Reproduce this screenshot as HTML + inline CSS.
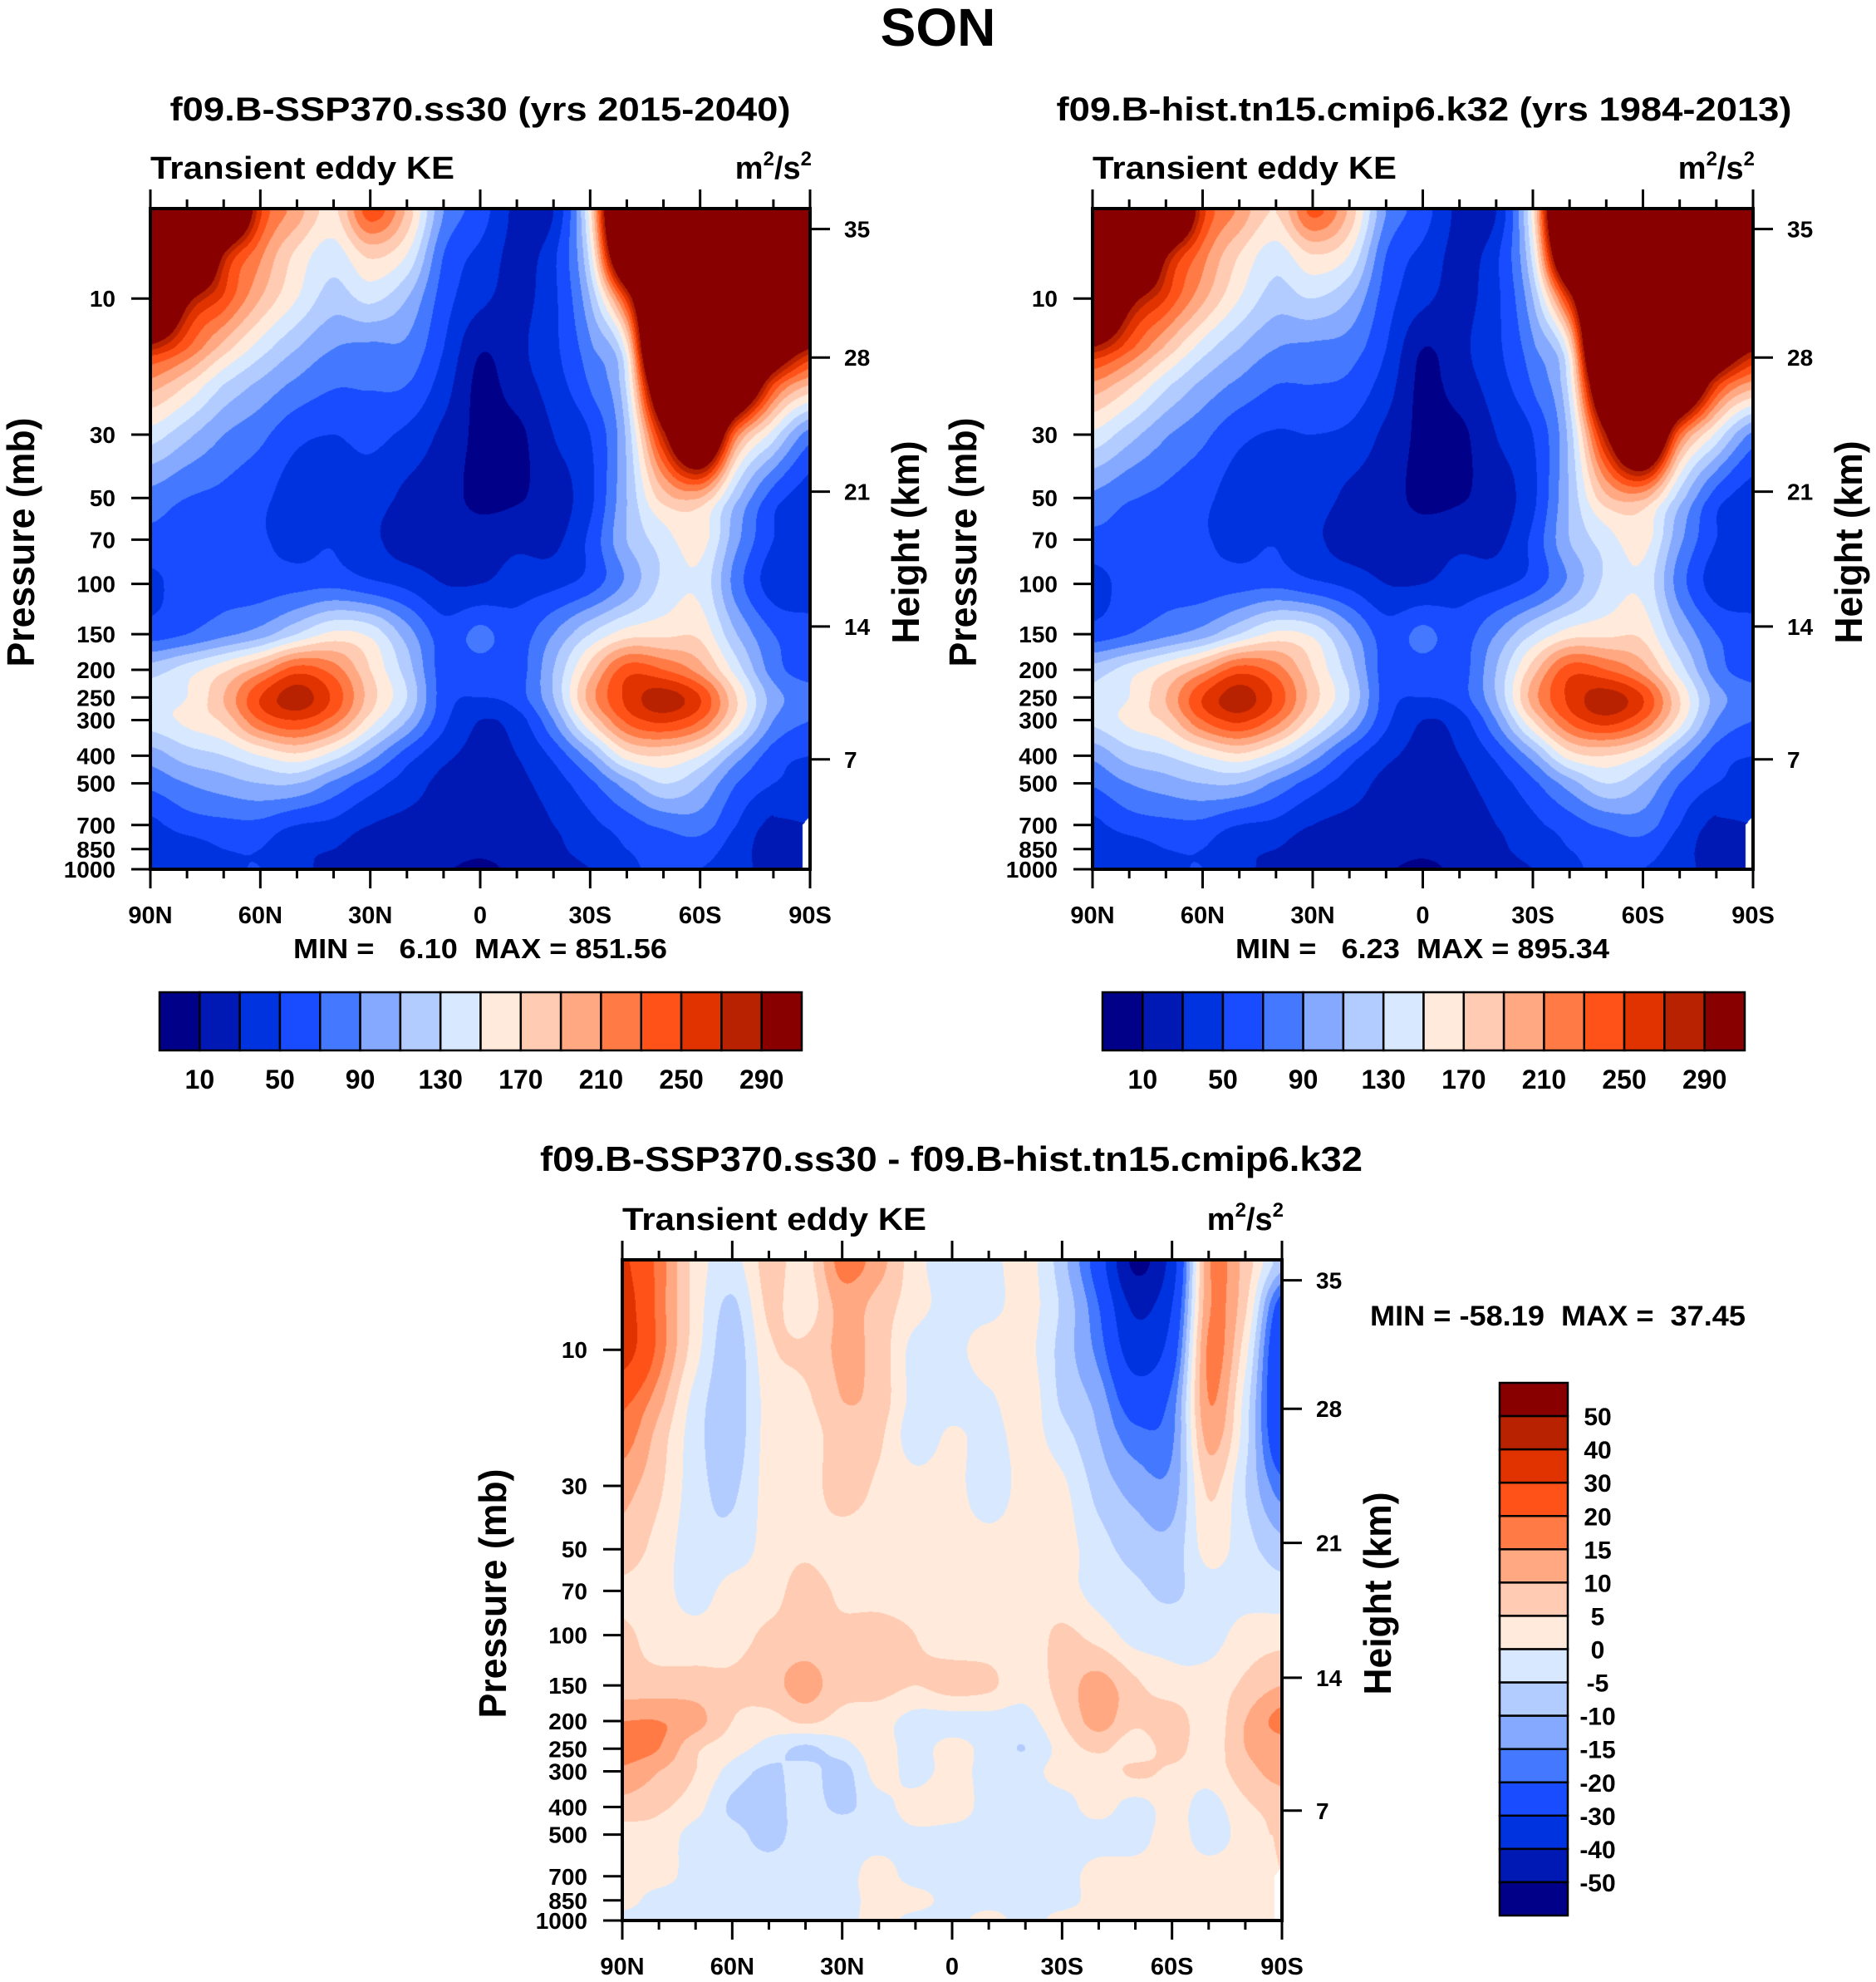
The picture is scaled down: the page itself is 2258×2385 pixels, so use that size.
<!DOCTYPE html>
<html><head><meta charset="utf-8">
<style>
html,body{margin:0;padding:0;background:#fff;}
#root{position:relative;width:2258px;height:2385px;overflow:hidden;background:#fff;}
canvas{position:absolute;}
svg{position:absolute;left:0;top:0;}
text{font-family:"Liberation Sans",sans-serif;font-weight:bold;fill:#000;}
</style></head>
<body>
<div id="root">
<canvas id="cA" width="794" height="795" style="left:181px;top:251px"></canvas>
<canvas id="cB" width="795" height="795" style="left:1315px;top:251px"></canvas>
<canvas id="cC" width="794" height="795" style="left:749px;top:1516px"></canvas>
<svg id="svg" width="2258" height="2385" xmlns="http://www.w3.org/2000/svg">
<text x="1129" y="55" font-size="64" text-anchor="middle">SON</text>
<text x="578" y="145" font-size="40" text-anchor="middle" textLength="747" lengthAdjust="spacingAndGlyphs">f09.B-SSP370.ss30 (yrs 2015-2040)</text>
<text x="1714" y="145" font-size="40" text-anchor="middle" textLength="885" lengthAdjust="spacingAndGlyphs">f09.B-hist.tn15.cmip6.k32 (yrs 1984-2013)</text>
<text x="1145" y="1409" font-size="42" text-anchor="middle" textLength="990" lengthAdjust="spacingAndGlyphs">f09.B-SSP370.ss30 - f09.B-hist.tn15.cmip6.k32</text>
<text x="353" y="1153" font-size="33" textLength="450" lengthAdjust="spacingAndGlyphs" xml:space="preserve">MIN =   6.10  MAX = 851.56</text>
<text x="1487" y="1153" font-size="33" textLength="450" lengthAdjust="spacingAndGlyphs" xml:space="preserve">MIN =   6.23  MAX = 895.34</text>
<text x="1649" y="1595" font-size="34" textLength="452" lengthAdjust="spacingAndGlyphs" xml:space="preserve">MIN = -58.19  MAX =  37.45</text>
</svg>
</div>
<script>
// ---- data ----
const latCols = [90,80,70,60,50,40,30,20,10,0,-10,-20,-30,-40,-50,-60,-70,-80,-90];
const presRows = [5,7,10,15,20,30,50,70,100,150,200,250,300,400,500,700,850,1000];
const pressureTicks = [10,30,50,70,100,150,200,250,300,400,500,700,850,1000];
const heightTickLabels = [7,14,21,28,35];
const heightTickPressures = [412,141,47.5,16.1,5.71];
const latTicks = [90,60,30,0,-30,-60,-90];
const latTickLabels = ["90N","60N","30N","0","30S","60S","90S"];
const levelsKE = [10,30,50,70,90,110,130,150,170,190,210,230,250,270,290];
const levelsDiff = [-50,-40,-30,-20,-15,-10,-5,0,5,10,15,20,30,40,50];
const keBarLabels = ["10","50","90","130","170","210","250","290"];
const colors = ["#000088","#0019b4","#0033e0","#1a4cff","#4479ff","#85a9ff","#b3ccff","#d8e9ff","#ffeadb","#ffcbb2","#ffa882","#ff7a45","#ff5219","#e03300","#b82200","#880000"];
const N = NaN;
const keSSP = [
[500,500,450,255,200,165,240,185,90,60,25,30,160,500,500,500,500,500,500],
[500,500,290,215,165,140,175,150,70,45,25,45,140,420,500,500,500,500,500],
[500,310,245,190,150,120,135,110,60,35,25,45,110,260,500,500,500,500,500],
[275,230,180,140,110,90,85,85,50,12,25,45,85,160,500,500,500,380,290],
[200,170,130,105,85,72,72,70,40,5,20,40,72,135,400,500,420,250,190],
[140,115,90,75,55,50,55,45,25,5,5,30,50,115,280,420,220,140,80],
[82,70,65,55,40,40,40,25,18,5,8,20,45,110,180,190,115,60,40],
[65,65,60,52,45,48,35,20,20,20,25,25,55,110,140,160,95,50,40],
[45,60,62,60,62,65,55,45,30,30,40,45,60,95,135,145,80,40,35],
[60,70,85,100,130,155,145,100,60,75,60,90,130,160,165,165,110,70,60],
[120,140,165,200,240,220,170,120,60,60,60,110,180,240,230,200,140,80,60],
[140,150,190,250,280,245,180,130,60,50,60,110,200,255,280,250,170,100,80],
[140,155,175,230,250,220,160,110,55,30,40,90,170,235,255,230,160,90,70],
[100,120,130,150,165,140,100,60,35,25,30,55,100,160,170,150,100,60,50],
[75,90,100,110,110,85,60,40,25,20,25,40,65,100,130,110,70,50,45],
[45,60,65,65,50,45,30,25,25,20,20,30,45,60,75,80,50,25,N],
[40,40,50,50,35,30,20,20,20,15,20,25,40,50,60,60,40,20,N],
[35,35,45,50,35,25,20,15,12,5,15,20,30,45,55,50,40,20,N]];
const keHist = [
[500,500,460,260,205,170,235,185,90,60,25,30,160,500,500,500,500,500,500],
[500,500,300,220,170,140,170,150,70,45,25,45,140,420,500,500,500,500,500],
[500,320,250,195,150,120,130,110,60,35,25,45,110,270,500,500,500,500,500],
[285,235,185,140,110,90,85,80,50,10,25,45,85,165,500,500,500,390,300],
[205,175,135,105,85,70,70,65,40,5,20,40,72,140,410,500,430,260,200],
[145,118,92,75,55,48,50,45,25,5,5,30,50,118,290,430,230,145,85],
[85,72,65,55,40,35,40,25,18,5,8,20,45,112,185,195,120,60,40],
[65,65,60,52,45,48,35,20,20,20,25,25,55,110,140,160,95,50,40],
[42,58,62,60,62,65,55,45,30,30,40,45,60,95,135,145,80,40,35],
[58,70,85,100,130,155,145,100,60,75,60,90,130,160,165,165,110,70,60],
[118,140,165,200,240,220,170,120,60,60,60,110,180,240,230,200,140,80,60],
[135,150,190,250,280,245,180,130,60,50,60,110,200,255,280,250,170,100,80],
[135,155,175,230,255,220,160,110,55,30,40,90,170,235,260,230,160,90,70],
[95,120,130,150,165,140,100,60,35,25,30,55,100,160,170,150,100,60,50],
[72,90,100,110,110,85,60,40,25,20,25,40,65,100,130,110,70,50,45],
[45,60,65,65,50,45,30,25,25,20,20,30,45,60,75,80,50,25,N],
[40,40,50,50,35,30,20,20,20,15,20,25,40,50,60,60,40,20,N],
[35,35,45,50,35,25,20,15,12,5,15,20,30,45,55,50,40,20,N]];
const keDiff = [
[32,18,3,-2,7,3,17,12,2,-3,-2,2,-8,-25,-52,-35,14,8,-8],
[35,18,3,-6,6,2,12,8,2,-2,-2,2,-6,-20,-42,-30,14,6,-24],
[35,18,2,-8,4,6,11,8,-2,-2,3,2,-7,-17,-35,-25,16,2,-30],
[22,12,-2,-8,2,4,10,8,-2,-3,-1,3,-6,-12,-25,-18,15,-2,-30],
[18,8,-3,-8,2,2,8,6,-3,1,-2,2,-3,-10,-18,-16,12,-3,-28],
[12,6,-3,-6,2,2,8,4,2,2,-3,2,1,-7,-12,-13,6,-5,-18],
[8,3,-3,-3,2,4,2,2,2,2,2,2,2,-3,-7,-8,2,-3,-8],
[4,2,-2,2,3,7,4,3,2,2,2,2,2,-2,-4,-6,-2,-2,-3],
[6,3,2,3,6,7,6,7,5,2,2,2,6,3,-2,-2,-2,2,3],
[7,7,7,6,8,12,7,7,5,7,6,2,7,12,6,2,2,6,10],
[15,15,12,5,3,6,3,2,-2,-2,-2,-2,5,12,6,8,2,10,17],
[17,15,6,2,-2,-6,-2,2,-2,2,-2,-5,2,6,2,7,2,10,12],
[14,10,5,-2,-6,-3,-7,2,-2,2,-2,-2,2,2,6,4,2,8,12],
[8,6,2,-6,-7,-3,-6,-2,2,3,-2,-2,-2,2,-2,2,-2,4,7],
[3,3,-2,-3,-7,-2,-2,-2,-1,-2,-2,-2,-2,-2,-2,2,-2,2,6],
[2,2,-2,-2,-2,-2,-2,2,-2,-2,-2,-2,-2,2,2,2,2,2,N],
[2,-2,-2,-2,-2,-2,-2,2,2,-2,-2,-2,-2,2,2,2,2,2,N],
[-2,-2,-2,-2,-2,-2,-2,2,-2,-2,2,-2,2,2,2,2,2,2,N]];

// ---- helpers ----
const PTOP = 4.84;
const svg = document.getElementById('svg');
const NS = 'http://www.w3.org/2000/svg';
function mk(tag, attrs, parent){ const e=document.createElementNS(NS,tag); for(const k in attrs) e.setAttribute(k,attrs[k]); (parent||svg).appendChild(e); return e; }
function hexToRgb(h){ return [parseInt(h.substr(1,2),16),parseInt(h.substr(3,2),16),parseInt(h.substr(5,2),16)]; }
const rgb = colors.map(hexToRgb);
function idx(v, lv){ let k=0; while(k<lv.length && v>=lv[k]) k++; return k; }
const logRows = presRows.map(p=>Math.log10(p));
function cr(t){ const t2=t*t,t3=t2*t; return [(-t3+2*t2-t)/2,(3*t3-5*t2+2)/2,(-3*t3+4*t2+t)/2,(t3-t2)/2]; }

function drawField(canvasId, grid, lv){
  const cv=document.getElementById(canvasId), ctx=cv.getContext('2d');
  const W=cv.width, H=cv.height, img=ctx.createImageData(W,H), d=img.data;
  const lt=Math.log10(PTOP), span=3-lt, nc=latCols.length-1, nr=presRows.length;
  for(let py=0;py<H;py++){
    const lp=lt+(py+0.5)/H*span;
    let r=0; while(r<nr-2 && lp>logRows[r+1]) r++;
    let fy=(lp-logRows[r])/(logRows[r+1]-logRows[r]); fy=Math.max(0,Math.min(1,fy));
    const wy=cr(fy);
    for(let px=0;px<W;px++){
      const cf=(px+0.5)/W*nc; let c=Math.min(nc-1,Math.floor(cf)); const fx=cf-c;
      const o=(py*W+px)*4;
      const cen=[grid[r][c],grid[r][c+1],grid[r+1][c],grid[r+1][c+1]];
      const bw=[(1-fx)*(1-fy),fx*(1-fy),(1-fx)*fy,fx*fy];
      let nw=0,bs=0,bt=0;
      for(let k=0;k<4;k++){ if(isNaN(cen[k])) nw+=bw[k]; else {bs+=cen[k]*bw[k]; bt+=bw[k];} }
      if(nw>0.8||bt===0){ d[o]=255;d[o+1]=255;d[o+2]=255;d[o+3]=255; continue; }
      let val;
      if(nw>0){ val=bs/bt; }
      else {
        const wx=cr(fx); let s=0, fb=bs/bt;
        for(let j=0;j<4;j++){
          const rr=Math.max(0,Math.min(nr-1,r-1+j));
          for(let i=0;i<4;i++){
            const cc=Math.max(0,Math.min(nc,c-1+i));
            let v=grid[rr][cc]; if(isNaN(v)) v=fb;
            s+=v*wx[i]*wy[j];
          }
        }
        val=s;
      }
      const col=rgb[idx(val,lv)];
      d[o]=col[0];d[o+1]=col[1];d[o+2]=col[2];d[o+3]=255;
    }
  }
  ctx.putImageData(img,0,0);
}

function drawAxes(name, L, T, W, H){
  const g=mk('g',{});
  
  
  const lt=Math.log10(PTOP), span=3-lt;
  const yOf=p=>T+(Math.log10(p)-lt)/span*H;
  const xOf=lat=>L+(90-lat)/180*W;
  for(let lat=90;lat>=-90;lat-=10){
    const major=(lat%30===0), len=major?23:11, x=xOf(lat);
    const t1=mk('line',{x1:x,y1:T,x2:x,y2:T-len,stroke:'#000','stroke-width':3},g);
    
    
    const t2=mk('line',{x1:x,y1:T+H,x2:x,y2:T+H+len,stroke:'#000','stroke-width':3},g);
    
    
  }
  latTicks.forEach((lat,i)=>{
    const t=mk('text',{x:xOf(lat),y:T+H+65,'font-size':29,'text-anchor':'middle'},g);
    t.textContent=latTickLabels[i];
    
    
  });
  pressureTicks.forEach(p=>{
    const y=yOf(p);
    const l=mk('line',{x1:L,y1:y,x2:L-23,y2:y,stroke:'#000','stroke-width':3},g);
    
    
    const t=mk('text',{x:L-42,y:y+10,'font-size':28,'text-anchor':'end'},g);
    t.textContent=String(p);
    
    
  });
  heightTickPressures.forEach((p,i)=>{
    const y=yOf(p);
    const l=mk('line',{x1:L+W,y1:y,x2:L+W+24,y2:y,stroke:'#000','stroke-width':3},g);
    
    
    const t=mk('text',{x:L+W+41,y:y+10,'font-size':28},g);
    t.textContent=String(heightTickLabels[i]);
    
    
  });
  const f=mk('rect',{x:L,y:T,width:W,height:H,fill:'none',stroke:'#000','stroke-width':4},g);
  
  
  const lt1=mk('text',{x:L,y:T-36,'font-size':38,textLength:366,lengthAdjust:'spacingAndGlyphs'},g);
  lt1.textContent='Transient eddy KE';
  
  
  const un=mk('text',{x:L+W+2,y:T-36,'font-size':38,'text-anchor':'end'},g);
  un.innerHTML='m<tspan dy="-16" font-size="24">2</tspan><tspan dy="16">/s</tspan><tspan dy="-16" font-size="24">2</tspan>';
  
  
  const cy=T+H/2+4;
  const pl=mk('text',{transform:'translate('+(L-140)+','+cy+') rotate(-90)','font-size':46,'text-anchor':'middle',textLength:300,lengthAdjust:'spacingAndGlyphs'},g);
  pl.textContent='Pressure (mb)';
  
  
  const hl=mk('text',{transform:'translate('+(L+W+131)+','+cy+') rotate(-90)','font-size':46,'text-anchor':'middle',textLength:244,lengthAdjust:'spacingAndGlyphs'},g);
  hl.textContent='Height (km)';
  
  
}

function hBar(name, x0, x1, y0, y1){
  const g=mk('g',{});
  
  
  const n=colors.length, w=(x1-x0)/n;
  colors.forEach((c,i)=>{
    const r=mk('rect',{x:x0+i*w,y:y0,width:w,height:y1-y0,fill:c,stroke:'#000','stroke-width':2.5},g);
    
    
  });
  keBarLabels.forEach((lab,i)=>{
    const t=mk('text',{x:x0+(2*i+1)*w,y:y1+46,'font-size':32,'text-anchor':'middle'},g);
    t.textContent=lab;
    
    
  });
}
function vBar(name, x0, x1, y0, y1){
  const g=mk('g',{});
  
  
  const n=colors.length, h=(y1-y0)/n;
  for(let i=0;i<n;i++){
    const r=mk('rect',{x:x0,y:y0+i*h,width:x1-x0,height:h,fill:colors[n-1-i],stroke:'#000','stroke-width':2.5},g);
    
    
  }
  for(let i=0;i<levelsDiff.length;i++){
    const v=levelsDiff[levelsDiff.length-1-i];
    const t=mk('text',{x:1923,y:y0+(i+1)*h+11,'font-size':30,'text-anchor':'middle'},g);
    t.textContent=String(v);
    
    
  }
}

drawField('cA', keSSP, levelsKE);
drawField('cB', keHist, levelsKE);
drawField('cC', keDiff, levelsDiff);
drawAxes('panel-a',181,251,794,795);
drawAxes('panel-b',1315,251,795,795);
drawAxes('panel-c',749,1516,794,795);
hBar('colorbar-a',192,965,1194,1264);
hBar('colorbar-b',1327,2100,1194,1264);
vBar('colorbar-c',1805,1887,1664,2305);
</script>
</body></html>
